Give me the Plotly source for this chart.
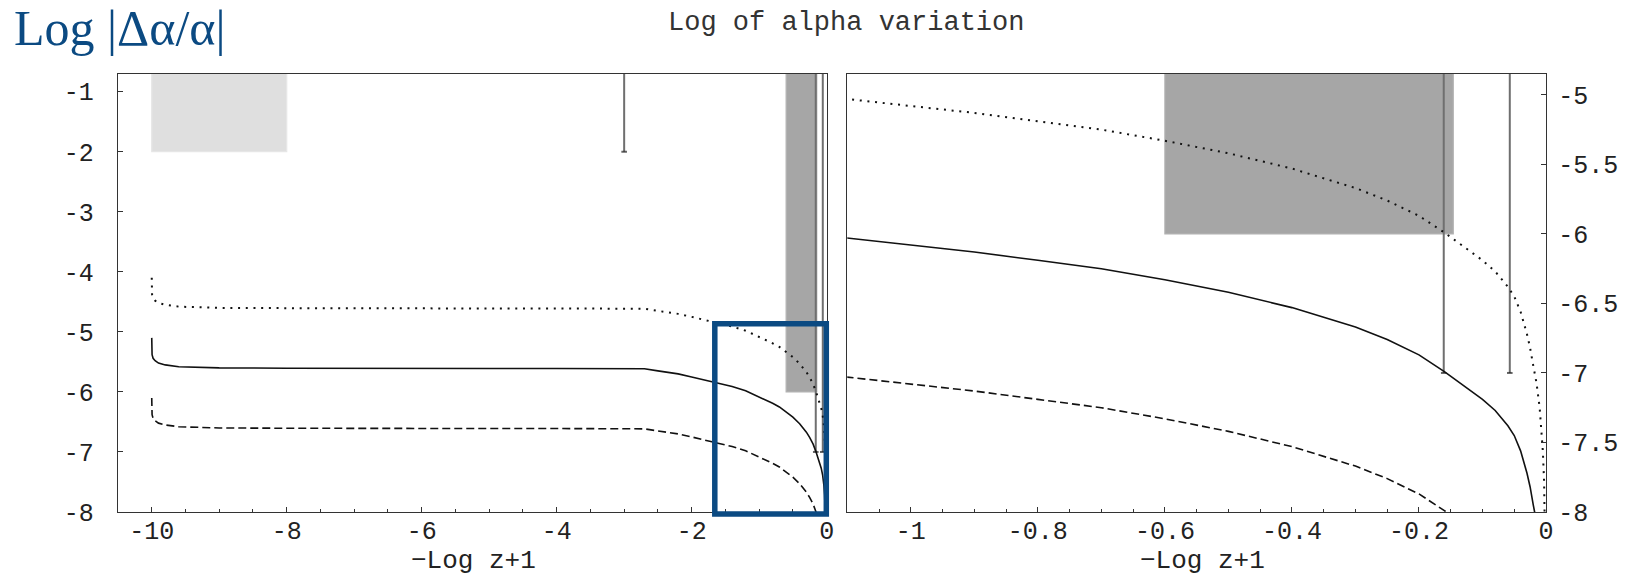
import plotly.graph_objects as go

# ---------------- data ----------------
x_logz = [-10, -9.995, -9.98, -9.95, -9.9, -9.8, -9.6, -9.4, -9.0, -8.0, -7.0, -6.0,
          -5.0, -4.0, -3.0, -2.7, -2.5, -2.2, -2.0, -1.8, -1.6, -1.4, -1.2, -1.1,
          -1.0, -0.9, -0.8, -0.7, -0.6, -0.5, -0.4, -0.3, -0.25, -0.2, -0.16, -0.12,
          -0.1, -0.08, -0.06, -0.05, -0.04, -0.03, -0.025, -0.02, -0.015, -0.01,
          -0.007, -0.005, -0.003, -0.002, -0.001, -0.0005]

y_solid = [-5.10, -5.38, -5.44, -5.48, -5.52, -5.55, -5.58, -5.59, -5.60, -5.605, -5.61, -5.61,
           -5.61, -5.61, -5.61, -5.615, -5.65, -5.70, -5.75, -5.80, -5.85, -5.91, -5.98, -6.03,
           -6.08, -6.13, -6.19, -6.25, -6.33, -6.42, -6.53, -6.67, -6.76, -6.87, -6.99, -7.12,
           -7.19, -7.27, -7.38, -7.45, -7.56, -7.72, -7.82, -7.95, -8.07, -8.25,
           -8.41, -8.56, -8.78, -8.95, -9.26, -9.56]

y_dotted = [-4.10, -4.38, -4.44, -4.48, -4.52, -4.55, -4.58, -4.59, -4.60, -4.605, -4.61, -4.61,
            -4.61, -4.61, -4.61, -4.615, -4.65, -4.70, -4.75, -4.80, -4.85, -4.91, -4.98, -5.03,
            -5.08, -5.13, -5.19, -5.25, -5.33, -5.42, -5.53, -5.67, -5.76, -5.87, -5.99, -6.12,
            -6.19, -6.27, -6.38, -6.45, -6.56, -6.72, -6.82, -6.95, -7.07, -7.25,
            -7.41, -7.56, -7.78, -7.95, -8.26, -8.56]

y_dashed = [-6.10, -6.38, -6.44, -6.48, -6.52, -6.55, -6.58, -6.59, -6.60, -6.605, -6.61, -6.61,
            -6.61, -6.61, -6.61, -6.615, -6.65, -6.70, -6.75, -6.80, -6.85, -6.91, -6.98, -7.03,
            -7.08, -7.13, -7.19, -7.25, -7.33, -7.42, -7.53, -7.67, -7.76, -7.87, -7.99, -8.12,
            -8.19, -8.27, -8.38, -8.45, -8.56, -8.72, -8.82, -8.95, -9.07, -9.25,
            -9.41, -9.56, -9.78, -9.95, -10.26, -10.56]

# observational bounds: [x_left, x_right, y_upper_bound]
band_light = [-10.0, -8.0, -2.0]
band_dark = [-0.6, -0.146, -6.0]
# single-epoch bounds: x position, lower end of the bar
bar_x = [-3.0, -0.161, -0.057]
bar_low = [-2.0, -7.0, -7.0]
bar_top = 0.0  # bars/bands run up past the top of the frame

# tick labels
xl_vals = [-10, -8, -6, -4, -2, 0]
xl_text = ["-10", "-8", "-6", "-4", "-2", "0"]
yl_vals = [-1, -2, -3, -4, -5, -6, -7, -8]
yl_text = ["-1", "-2", "-3", "-4", "-5", "-6", "-7", "-8"]
xr_vals = [-1, -0.8, -0.6, -0.4, -0.2, 0]
xr_text = ["-1", "-0.8", "-0.6", "-0.4", "-0.2", "0"]
yr_vals = [-5, -5.5, -6, -6.5, -7, -7.5, -8]
yr_text = ["-5", "-5.5", "-6", "-6.5", "-7", "-7.5", "-8"]

# ---------------- figure ----------------
W, H = 1635, 575
ML, MR, MT, MB = 118, 89, 74, 63
PW, PH = W - ML - MR, H - MT - MB

def px_x(px):
    return (px - ML) / PW

def px_y(py):
    return (H - MB - py) / PH

fig = go.Figure()

BLUE = "#0b4a82"
MONO = "Liberation Mono, Courier New, monospace"

def add_band(b, fill, edge, xa, ya):
    x0, x1, ylo = b
    fig.add_trace(go.Scatter(
        x=[x0, x1, x1, x0, x0], y=[bar_top, bar_top, ylo, ylo, bar_top],
        mode="lines", fill="toself", fillcolor=fill,
        line=dict(color=edge, width=1.2), hoverinfo="skip", showlegend=False,
        xaxis=xa, yaxis=ya))

def add_bar(i, xa, ya):
    fig.add_trace(go.Scatter(
        x=[bar_x[i], bar_x[i]], y=[bar_top, bar_low[i]],
        mode="lines+markers",
        line=dict(color="#6f6f6f", width=2),
        marker=dict(symbol="line-ew", size=[0, 4], line=dict(color="#222", width=2)),
        hoverinfo="skip", showlegend=False, xaxis=xa, yaxis=ya))

def add_curves(xa, ya):
    fig.add_trace(go.Scatter(x=x_logz, y=y_dotted, mode="lines",
                             line=dict(color="#111", width=2, dash="2px,5.7px"),
                             hoverinfo="skip", showlegend=False, xaxis=xa, yaxis=ya))
    fig.add_trace(go.Scatter(x=x_logz, y=y_solid, mode="lines",
                             line=dict(color="#111", width=1.6),
                             hoverinfo="skip", showlegend=False, xaxis=xa, yaxis=ya))
    fig.add_trace(go.Scatter(x=x_logz, y=y_dashed, mode="lines",
                             line=dict(color="#111", width=1.6, dash="8px,4px"),
                             hoverinfo="skip", showlegend=False, xaxis=xa, yaxis=ya))

# left panel
add_band(band_light, "#dfdfdf", "#e6e6e6", "x", "y")
add_band(band_dark, "#a6a6a6", "#b2b2b2", "x", "y")
for i in range(3):
    add_bar(i, "x", "y")
add_curves("x", "y")

# right panel
add_band(band_dark, "#a6a6a6", "#b2b2b2", "x2", "y2")
for i in (1, 2):
    add_bar(i, "x2", "y2")
add_curves("x2", "y2")

tickfont = dict(family=MONO, size=25, color="#222")
axis_common = dict(showgrid=False, zeroline=False, showline=True, linecolor="#333",
                   linewidth=1.3, mirror=True, ticks="inside", tickcolor="#333",
                   tickwidth=1, tickfont=tickfont, automargin=False)

fig.update_layout(
    width=W, height=H,
    margin=dict(l=ML, r=MR, t=MT, b=MB, autoexpand=False),
    paper_bgcolor="white", plot_bgcolor="white",
    xaxis=dict(domain=[0, px_x(827.3)], range=[-10.5, 0.01], anchor="y",
               tickvals=xl_vals, ticktext=xl_text, ticklen=5, ticklabelstandoff=-4,
               minor=dict(dtick=0.5, tick0=0, ticks="inside", ticklen=3, tickcolor="#333"),
               **axis_common),
    yaxis=dict(domain=[0, 1], range=[-8, -0.705], anchor="x",
               tickvals=yl_vals, ticktext=yl_text, ticklen=5, ticklabelstandoff=18,
               **axis_common),
    xaxis2=dict(domain=[px_x(847.3), 1], range=[-1.1, 0], anchor="y2",
                tickvals=xr_vals, ticktext=xr_text, ticklen=5, ticklabelstandoff=-4,
                minor=dict(dtick=0.05, tick0=0, ticks="inside", ticklen=3, tickcolor="#333"),
                **axis_common),
    yaxis2=dict(domain=[0, 1], range=[-8, -4.85], anchor="x2", side="right",
                tickvals=yr_vals, ticktext=yr_text, ticklen=5, ticklabelstandoff=6,
                **axis_common),
    shapes=[dict(type="rect", xref="paper", yref="paper",
                 x0=px_x(714.8), x1=px_x(826.3), y0=px_y(514), y1=px_y(323.7),
                 line=dict(color=BLUE, width=5.5), fillcolor="rgba(0,0,0,0)", layer="above")],
    annotations=[
        dict(text="Log of alpha variation", xref="paper", yref="paper",
             x=px_x(846), y=px_y(23), xanchor="center", yanchor="middle", showarrow=False,
             font=dict(family=MONO, size=27, color="#333")),
        dict(text="Log |Δα/α|", xref="paper", yref="paper",
             x=px_x(12), y=px_y(28), xanchor="left", yanchor="middle", showarrow=False,
             font=dict(family="Liberation Serif, Times New Roman, serif", size=50, color=BLUE)),
        dict(text="−Log z+1", xref="paper", yref="paper",
             x=px_x(473), y=px_y(561), xanchor="center", yanchor="middle", showarrow=False,
             font=dict(family=MONO, size=26, color="#222")),
        dict(text="−Log z+1", xref="paper", yref="paper",
             x=px_x(1202), y=px_y(561), xanchor="center", yanchor="middle", showarrow=False,
             font=dict(family=MONO, size=26, color="#222")),
    ],
)

fig.write_html("out.html")
